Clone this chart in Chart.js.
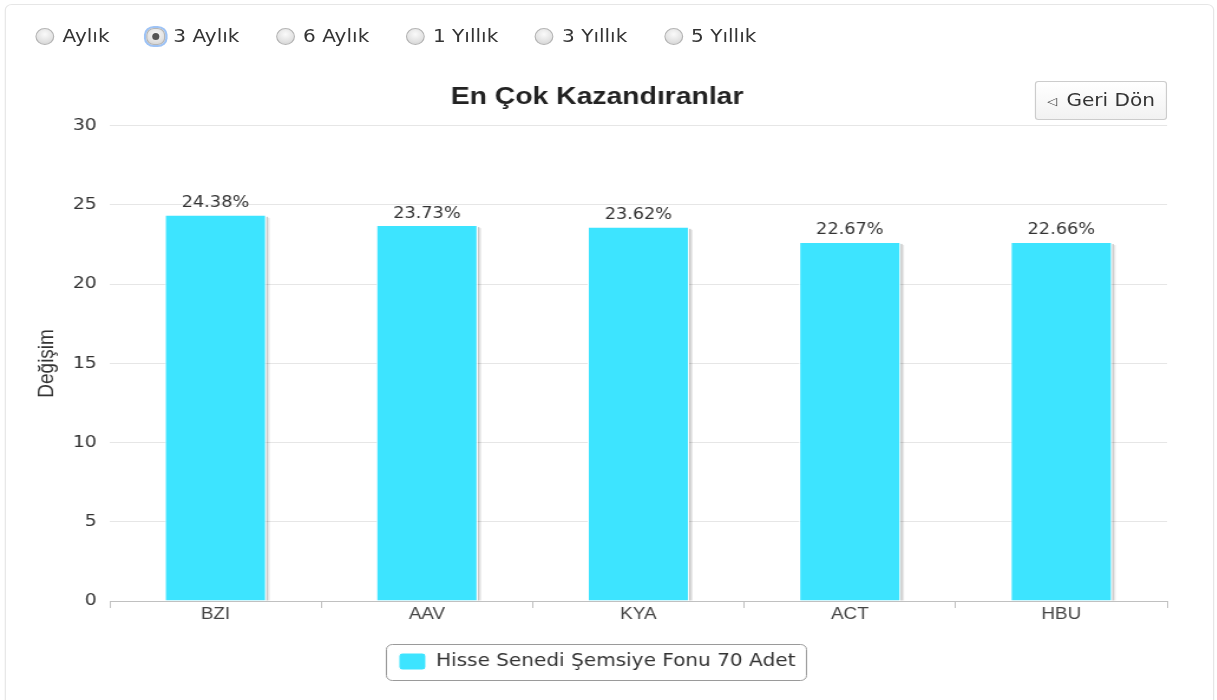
<!DOCTYPE html>
<html lang="tr">
<head>
<meta charset="utf-8">
<title>En Çok Kazandıranlar</title>
<script src="https://cdn.jsdelivr.net/npm/chart.js@4.4.1/dist/chart.umd.min.js"></script>
<style>
  html, body { margin: 0; padding: 0; background: #fff; overflow: hidden; }
  /* the reference screenshot is stretched horizontally, so the whole stage is too */
  #stage {
    position: absolute; left: 0; top: 0;
    width: 1031px; height: 700px;
    transform: scaleX(1.18); transform-origin: 0 0;
    font-family: 'DejaVu Sans', Verdana, sans-serif;
  }
  #panel {
    position: absolute; left: 4px; top: 4px; width: 1023px; height: 720px;
    border: 1px solid #e6e6e6; border-radius: 6px;
  }
  #periods {
    position: absolute; left: 30px; top: 26px;
    display: flex; align-items: center;
  }
  .period { display: flex; align-items: center; margin-right: 31px; color: #333; font-size: 17px; }
  .radio {
    position: relative;
    width: 14px; height: 15px; border-radius: 50%;
    border: 1px solid #b5b5b5;
    background: radial-gradient(circle at 50% 35%, #fafafa 0%, #e2e2e2 60%, #cfcfcf 100%);
    margin-right: 7px;
  }
  .period.on .radio::after {
    content: ''; position: absolute; left: 4px; top: 4px; width: 6px; height: 7px;
    border-radius: 50%; background: #555;
  }
  .period.on .radio { box-shadow: 0 0 0 2px #9ec3f5; border-radius: 40%; }
  #back {
    position: absolute; left: 877px; top: 81px; width: 110px; height: 37px;
    border: 1px solid #cccccc; border-radius: 3px;
    background: linear-gradient(#ffffff, #f2f2f2);
    color: #333; font-size: 17px; line-height: 37px; text-align: center;
  }
  #back .arr { font-size: 11px; vertical-align: 1px; margin-right: 8px; }
  #chartBox { position: absolute; left: 0; top: 0; width: 1031px; height: 700px; }
</style>
</head>
<body>
<div id="stage">
  <div id="panel"></div>
  <div id="periods"></div>
  <div id="back"><span class="arr">&#9665;</span>Geri Dön</div>
  <div id="chartBox"><canvas id="gainers"></canvas></div>
</div>
<script>
// data
const periods = ['Aylık', '3 Aylık', '6 Aylık', '1 Yıllık', '3 Yıllık', '5 Yıllık'];
const selectedPeriod = '3 Aylık';
const categories = ['BZI', 'AAV', 'KYA', 'ACT', 'HBU'];
const changes = [24.38, 23.73, 23.62, 22.67, 22.66];
const seriesName = 'Hisse Senedi Şemsiye Fonu 70 Adet';
const yTicks = [0, 5, 10, 15, 20, 25, 30];

const BAR_COLOR = '#3de4ff';
const TEXT = '#333333';

// period selector (static, just for the look)
const periodsEl = document.getElementById('periods');
periods.forEach(p => {
  const item = document.createElement('div');
  item.className = 'period' + (p === selectedPeriod ? ' on' : '');
  item.innerHTML = '<span class="radio"></span><span>' + p + '</span>';
  periodsEl.appendChild(item);
});

// bar shadows + value labels
const barDecor = {
  id: 'barDecor',
  beforeDatasetsDraw(chart) {
    const ctx = chart.ctx;
    ctx.save();
    chart.getDatasetMeta(0).data.forEach(bar => {
      const { x, y, base, width } = bar.getProps(['x', 'y', 'base', 'width'], true);
      const right = x + width / 2;
      ctx.fillStyle = 'rgba(0,0,0,0.22)';
      ctx.fillRect(right, y + 2, 1.5, base - y - 2);
      ctx.fillStyle = 'rgba(0,0,0,0.09)';
      ctx.fillRect(right + 1.5, y + 3, 1.5, base - y - 3);
    });
    ctx.restore();
  },
  afterDatasetsDraw(chart) {
    const ctx = chart.ctx;
    ctx.save();
    ctx.font = "15px 'DejaVu Sans', Verdana, sans-serif";
    ctx.fillStyle = TEXT;
    ctx.textAlign = 'center';
    ctx.textBaseline = 'bottom';
    chart.getDatasetMeta(0).data.forEach((bar, i) => {
      ctx.fillText(changes[i].toFixed(2) + '%', bar.x, bar.y - 4);
    });
    ctx.restore();
  }
};

// rounded frame round the legend item
const legendFrame = {
  id: 'legendFrame',
  afterDraw(chart) {
    const boxes = chart.legend && chart.legend.legendHitBoxes;
    if (!boxes || !boxes.length) return;
    const b = boxes[0];
    const ctx = chart.ctx;
    const x = b.left - 11, y = b.top - 9, w = b.width + 20, h = b.height + 19;
    ctx.save();
    ctx.strokeStyle = '#9a9a9a';
    ctx.lineWidth = 1;
    ctx.beginPath();
    ctx.roundRect(Math.round(x) + 0.5, Math.round(y) + 0.5, Math.round(w), Math.round(h), 5);
    ctx.stroke();
    ctx.restore();
  }
};

new Chart(document.getElementById('gainers'), {
  type: 'bar',
  data: {
    labels: categories,
    datasets: [{
      label: seriesName,
      data: changes,
      backgroundColor: BAR_COLOR,
      borderColor: '#ffffff',
      borderWidth: 1,
      categoryPercentage: 1,
      barPercentage: 0.48
    }]
  },
  options: {
    responsive: true,
    maintainAspectRatio: false,
    animation: false,
    layout: { padding: { top: 0, left: 23, right: 42, bottom: 20 } },
    plugins: {
      title: {
        display: true,
        text: 'En Çok Kazandıranlar',
        color: '#222',
        font: { family: "'Liberation Sans', Arial, sans-serif", size: 24, weight: 'bold' },
        padding: { top: 83, bottom: 14 }
      },
      legend: {
        position: 'bottom',
        labels: {
          color: TEXT,
          font: { family: "'DejaVu Sans', Verdana, sans-serif", size: 17 },
          boxWidth: 23,
          boxHeight: 17,
          useBorderRadius: true,
          borderRadius: 3,
          padding: 10
        }
      },
      tooltip: { enabled: false }
    },
    scales: {
      x: {
        afterFit(scale) { scale.height = 42; },
        grid: {
          offset: true,
          drawOnChartArea: false,
          drawTicks: true,
          tickLength: 7,
          color: '#c0c0c0'
        },
        border: { color: '#c0c0c0' },
        ticks: {
          color: '#444',
          padding: -3,
          font: { family: "'Liberation Sans', Arial, sans-serif", size: 16 }
        }
      },
      y: {
        min: yTicks[0],
        max: yTicks[yTicks.length - 1],
        afterFit(scale) { scale.width = 70; },
        afterBuildTicks(scale) { scale.ticks = yTicks.map(v => ({ value: v })); },
        grid: { color: '#e6e6e6', drawTicks: false },
        border: { display: false },
        ticks: {
          color: TEXT,
          padding: 11,
          font: { family: "'DejaVu Sans', Verdana, sans-serif", size: 16 }
        },
        title: {
          display: true,
          text: 'Değişim',
          color: TEXT,
          font: { family: "'Liberation Sans', Arial, sans-serif", size: 19 },
          padding: { top: 5, bottom: 0 }
        }
      }
    }
  },
  plugins: [barDecor, legendFrame]
});
</script>
</body>
</html>
